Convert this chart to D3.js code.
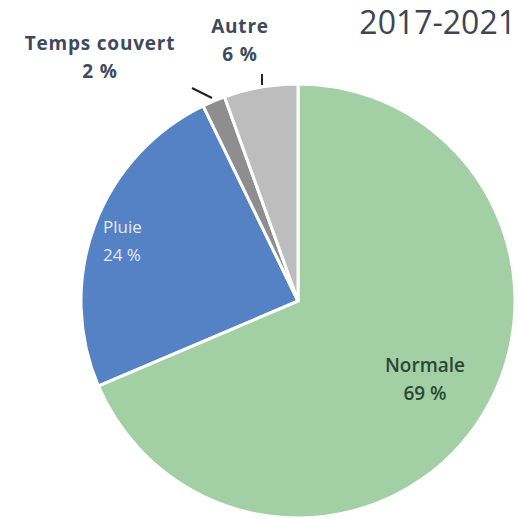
<!DOCTYPE html>
<html>
<head>
<meta charset="utf-8">
<script src="https://cdn.jsdelivr.net/npm/d3@7"></script>
<style>
  body { margin: 0; background: #fff; }
  text { font-family: "Open Sans", "DejaVu Sans", sans-serif; }
</style>
</head>
<body>
<div id="chart"></div>
<script>
// share of each weather condition (clockwise from 12 o'clock)
var categories = ["Normale", "Pluie", "Temps couvert", "Autre"];
var shares = [68.6, 24.2, 1.7, 5.5];
var colors = ["#a2d0a4", "#5482c4", "#8e8e8e", "#bdbdbd"];
var title = "2017-2021";

var w = 518, h = 519,
    cx = 298, cy = 301, r = 217;

var svg = d3.select("#chart").append("svg")
  .attr("width", w)
  .attr("height", h)

var pie = d3.pie().sort(null).value(function(d){ return d.v })
var arc = d3.arc().innerRadius(0).outerRadius(r)

var data = categories.map(function(c, i){ return {name: c, v: shares[i], col: colors[i]} })
var arcs = pie(data)

var g = svg.append("g").attr("transform", "translate(" + cx + "," + cy + ")")

g.selectAll(".slice")
  .data(arcs)
  .enter()
    .append("path")
      .attr("class", "slice")
      .attr("d", arc)
      .style("fill", function(d){ return d.data.col })
      .style("stroke", "#fff")
      .style("stroke-width", 3)

function pct(d){ return Math.round(d.data.v) + " %" }

// inside labels
var inside = [
  {i: 0, x: 127, y: 71, anchor: "middle", fill: "#2c4634", size: 19, weight: 600},
  {i: 1, x: -195, y: -68, anchor: "start", fill: "#e2ebf7", size: 17, weight: 400}
]
inside.forEach(function(o){
  var t = g.append("text")
    .attr("text-anchor", o.anchor)
    .style("font-size", o.size + "px")
    .style("font-weight", o.weight)
    .style("fill", o.fill)
  t.append("tspan").attr("x", o.x).attr("y", o.y).text(arcs[o.i].data.name)
  t.append("tspan").attr("x", o.x).attr("y", o.y + 28).text(pct(arcs[o.i]))
})

// outside labels with leader lines
var outside = [
  {i: 2, x: -198, y: -251, line: [[-106, -213], [-86, -203]]},
  {i: 3, x: -58, y: -268, line: [[-36, -227], [-36, -216]]}
]
outside.forEach(function(o){
  var d = arcs[o.i]
  var t = g.append("text")
    .attr("text-anchor", "middle")
    .style("font-size", "19px")
    .style("font-weight", "bold")
    .style("letter-spacing", "0.8px")
    .style("fill", "#3d4a5c")
  t.append("tspan").attr("x", o.x).attr("y", o.y).text(d.data.name)
  t.append("tspan").attr("x", o.x).attr("y", o.y + 28).text(pct(d))
  g.append("line")
    .attr("x1", o.line[0][0]).attr("y1", o.line[0][1])
    .attr("x2", o.line[1][0]).attr("y2", o.line[1][1])
    .style("stroke", "#222")
    .style("stroke-width", 2)
})

svg.append("text")
  .attr("x", 516)
  .attr("y", 34)
  .attr("text-anchor", "end")
  .style("font-size", "32px")
  .style("fill", "#3e4450")
  .text(title)
</script>
</body>
</html>
